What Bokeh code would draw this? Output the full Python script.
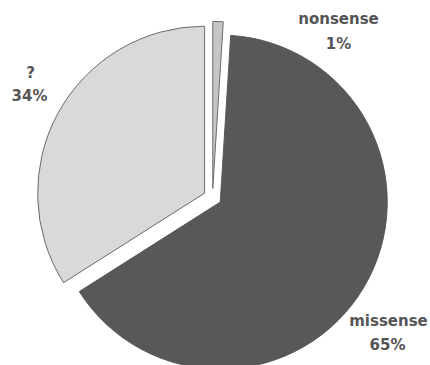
import math
from bokeh.plotting import figure
from bokeh.models import Range1d, ColumnDataSource
from bokeh.core.properties import value
from bokeh.embed import file_html
from bokeh.resources import INLINE

# data
categories = ["nonsense", "?", "missense"]
shares = [1, 34, 65]          # percent
pct_labels = ["1%", "34%", "65%"]

# styling / layout
fills = ["#c6c6c6", "#d9d9d9", "#585858"]
lines = ["#6a6a6a", "#6a6a6a", "#585858"]
W, H = 430, 365
cx, cy = 212, H - 197
radius = 167
explode = 9
name_pos = [(338, 18), (30, 72), (388, 320)]  # pixel coords (from top)
pct_pos = [(338, 43), (29, 95), (387, 344)]

total = sum(shares)
start0 = math.pi / 2 - shares[0] / total * 2 * math.pi
starts, ends, xs, ys = [], [], [], []
a = start0
for s in shares:
    b = a + s / total * 2 * math.pi
    mid = (a + b) / 2
    starts.append(a)
    ends.append(b)
    xs.append(cx + explode * math.cos(mid))
    ys.append(cy + explode * math.sin(mid))
    a = b

src = ColumnDataSource(dict(x=xs, y=ys, start=starts, end=ends,
                            fill=fills, line=lines, cat=categories))

p = figure(width=W, height=H, output_backend="svg", toolbar_location=None,
           x_range=Range1d(0, W), y_range=Range1d(0, H),
           x_axis_location=None, y_axis_location=None, min_border=0)
p.grid.visible = False
p.outline_line_color = None
p.background_fill_color = "white"

p.wedge(x="x", y="y", radius=radius, start_angle="start", end_angle="end",
        fill_color="fill", line_color="line", line_width=1, source=src)

common = dict(text_align="center", text_baseline="middle",
              text_font=value("DejaVu Sans"), text_font_style="bold",
              text_font_size="15px", text_color="#555555")
p.text(x=[q[0] for q in name_pos], y=[H - q[1] for q in name_pos],
       text=categories, **common)
p.text(x=[q[0] for q in pct_pos], y=[H - q[1] for q in pct_pos],
       text=pct_labels, **common)

open("out.html", "w").write(file_html(p, INLINE))
